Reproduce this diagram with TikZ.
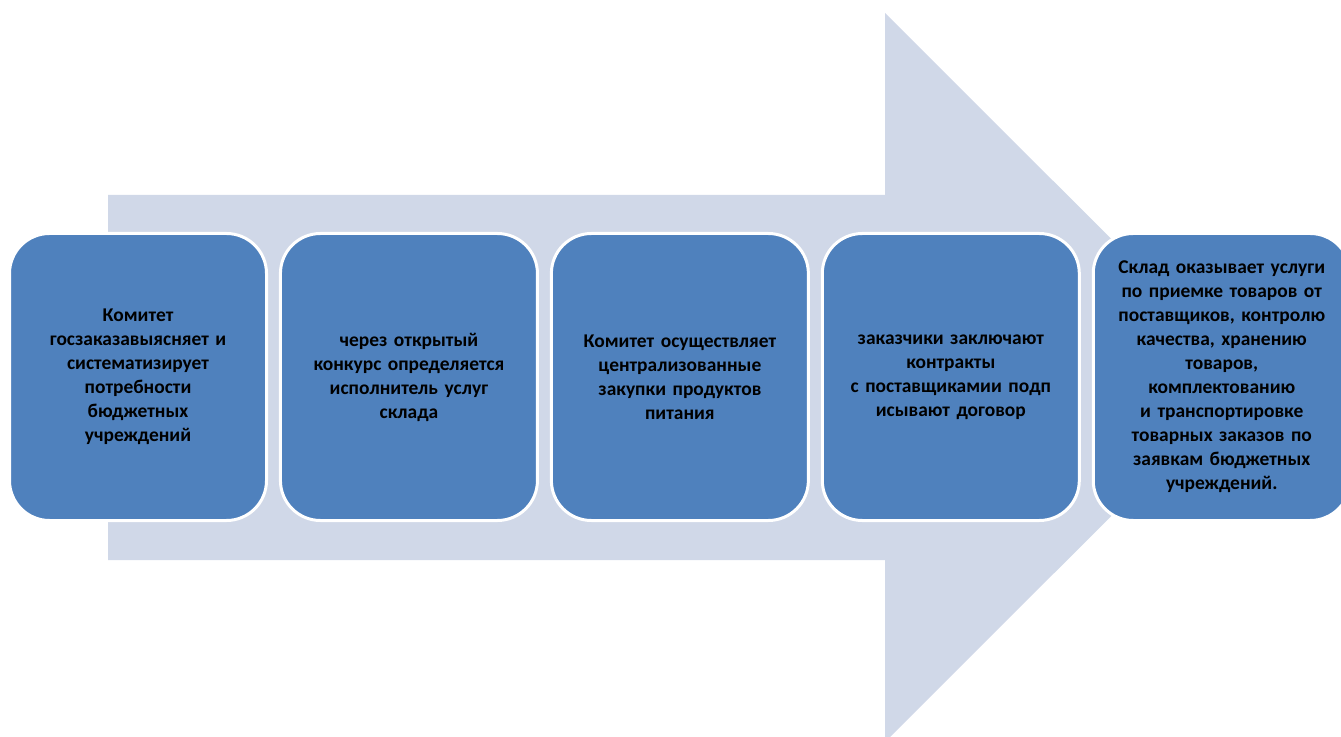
\documentclass[tikz,border=0pt]{standalone}
\usepackage{fontspec}
\setmainfont{Carlito}
\usetikzlibrary{positioning}

\definecolor{stepblue}{HTML}{4F81BD}
\definecolor{arrowgrey}{HTML}{D0D8E8}

\tikzset{
  stepbox/.style={draw=white, line width=2.25pt, fill=stepblue, rounded corners=30pt,
    minimum width=192.75pt, minimum height=215.25pt, align=center, text width=180pt,
    font=\bfseries\fontsize{14.6}{18}\selectfont, inner sep=0pt}
}

\begin{document}
\begin{tikzpicture}[x=0.75pt, y=-0.75pt]
  \clip (0,0) rectangle (1341,737);
  % big background arrow
  \fill[arrowgrey] (108,195) -- (885,195) -- (885,13) -- (1250,377.5)
    -- (885,742) -- (885,560) -- (108,560) -- cycle;
  % steps
  \node[stepbox] (b1) at (138,377) {Комитет\\ госзаказавыясняет и\\ систематизирует\\ потребности\\ бюджетных\\ учреждений};
  \node[stepbox, right=8.2pt of b1] (b2) {через открытый\\ конкурс определяется\\ исполнитель услуг\\ склада};
  \node[stepbox, right=8.2pt of b2] (b3) {Комитет осуществляет\\ централизованные\\ закупки продуктов\\ питания};
  \node[stepbox, right=8.2pt of b3] (b4) {заказчики заключают\\ контракты\\ с поставщикамии подп\\ исывают договор};
  \node[stepbox, right=8.2pt of b4] (b5) {Склад оказывает услуги\\ по приемке товаров от\\ поставщиков, контролю\\ качества, хранению\\ товаров,\\ комплектованию\\ и транспортировке\\ товарных заказов по\\ заявкам бюджетных\\ учреждений.};
\end{tikzpicture}
\end{document}
